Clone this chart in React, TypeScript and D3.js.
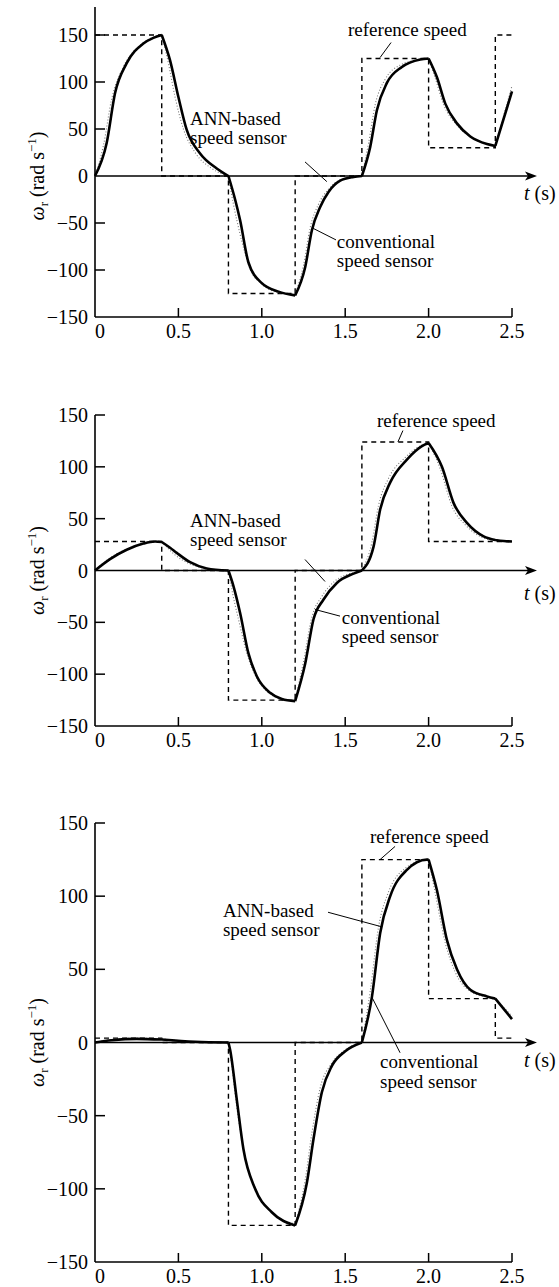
import React from 'react';
import * as d3 from 'd3';

// ---------- data ----------
const stepTimes = [0, 0.4, 0.8, 1.2, 1.6, 2.0, 2.4, 2.5];
const xTicks = [0, 0.5, 1.0, 1.5, 2.0, 2.5];
const xTickLabels = ['0', '0.5', '1.0', '1.5', '2.0', '2.5'];
const yTicks = [-150, -100, -50, 0, 50, 100, 150];
const yTickLabels = ['\u2212150', '\u2212100', '\u221250', '0', '50', '100', '150'];

// reference speed levels, one per step time
const p1Reference = [150, 0, -125, 0, 125, 30, 150, 150];
const p2Reference = [28, 0, -125, 0, 124, 28, 28, 28];
const p3Reference = [3, 0, -125, 0, 125, 30, 3, 3];

// conventional speed sensor [t, omega]
const p1Conventional: [number, number][] = [
  [0, 0], [0.07, 35], [0.12, 88], [0.19, 120], [0.29, 141], [0.35, 147], [0.4, 150],
  [0.45, 123], [0.5, 84], [0.55, 49], [0.63, 24], [0.73, 8], [0.8, 0],
  [0.84, -25], [0.87, -47], [0.92, -92], [1.0, -114], [1.1, -123], [1.2, -127],
  [1.26, -97], [1.3, -58], [1.35, -33], [1.4, -17], [1.47, -5], [1.55, -1], [1.6, 0],
  [1.65, 31], [1.69, 70], [1.75, 99], [1.84, 116], [1.95, 124], [2.0, 125],
  [2.05, 105], [2.1, 77], [2.17, 56], [2.25, 42], [2.35, 34], [2.4, 32],
  [2.5, 90],
];
const p2Conventional: [number, number][] = [
  [0, 0], [0.09, 11], [0.19, 20], [0.29, 26], [0.36, 28], [0.4, 27.5],
  [0.45, 22], [0.49, 17], [0.57, 8], [0.67, 2], [0.8, 0],
  [0.83, -15], [0.87, -41], [0.92, -80], [0.97, -102], [1.05, -118], [1.12, -124], [1.2, -126],
  [1.26, -90], [1.31, -47], [1.37, -28], [1.45, -12], [1.55, -3], [1.6, 0],
  [1.67, 23], [1.71, 59], [1.77, 85], [1.87, 107], [1.96, 120], [2.0, 123],
  [2.08, 100], [2.15, 65], [2.23, 46], [2.33, 33], [2.4, 29.5],
  [2.45, 28.5], [2.5, 28],
];
const p3Conventional: [number, number][] = [
  [0, 0], [0.1, 1.5], [0.25, 2.5], [0.4, 2],
  [0.6, 0.5], [0.8, 0],
  [0.81, -5], [0.85, -39], [0.89, -73], [0.96, -100], [1.06, -116], [1.2, -125],
  [1.27, -96], [1.31, -66], [1.36, -34], [1.42, -16], [1.5, -6], [1.6, 0],
  [1.66, 31], [1.71, 75], [1.77, 100], [1.87, 118], [1.99, 125], [2.0, 125],
  [2.05, 104], [2.11, 70], [2.17, 50], [2.25, 36], [2.35, 31.5], [2.4, 30],
  [2.5, 16],
];

// ANN-based speed sensor [t, omega]
const p1Ann: [number, number][] = [
  [0, 0], [0.05, 32], [0.1, 82], [0.17, 116], [0.27, 139], [0.34, 147], [0.4, 150],
  [0.44, 120], [0.48, 84], [0.53, 50], [0.6, 25], [0.7, 8], [0.8, 0],
  [0.83, -30], [0.87, -62], [0.93, -99], [1.0, -115], [1.1, -124], [1.2, -126],
  [1.25, -95], [1.29, -55], [1.34, -30], [1.4, -14], [1.47, -4], [1.55, -1], [1.6, 0],
  [1.64, 35], [1.68, 76], [1.74, 103], [1.83, 118], [1.95, 124], [2.0, 125],
  [2.04, 104], [2.09, 76], [2.16, 56], [2.25, 42], [2.35, 34], [2.4, 32],
  [2.5, 96],
];
const p2Ann: [number, number][] = [
  [0, 0], [0.08, 11], [0.18, 20], [0.28, 26], [0.35, 28], [0.4, 27.5],
  [0.44, 21], [0.48, 15], [0.56, 7], [0.66, 2], [0.8, 0],
  [0.82, -18], [0.86, -47], [0.92, -85], [0.97, -104], [1.05, -119], [1.12, -124], [1.2, -125],
  [1.25, -88], [1.3, -45], [1.36, -25], [1.44, -10], [1.55, -2], [1.6, 0],
  [1.66, 27], [1.7, 63], [1.76, 89], [1.86, 109], [1.96, 121], [2.0, 123],
  [2.07, 98], [2.14, 62], [2.22, 44], [2.32, 32], [2.4, 29],
  [2.45, 28.5], [2.5, 28],
];
const p3Ann: [number, number][] = [
  [0, 0], [0.1, 2], [0.25, 3], [0.4, 2.5],
  [0.6, 0.5], [0.8, 0],
  [0.81, -7], [0.85, -44], [0.9, -78], [0.97, -102], [1.07, -117], [1.2, -124],
  [1.26, -94], [1.3, -62], [1.35, -31], [1.42, -14], [1.5, -5], [1.6, 0],
  [1.65, 35], [1.7, 79], [1.76, 103], [1.86, 119], [1.99, 125], [2.0, 125],
  [2.04, 102], [2.1, 68], [2.16, 48], [2.25, 35], [2.35, 31], [2.4, 30],
  [2.5, 18],
];

// ---------- layout ----------
const FONT = '"Liberation Serif", "Times New Roman", serif';
const FS = 20;
const NOTE_FS = 19;
const X0 = 95;
const X1 = 512;
const ARROW_TIP = 537;

type Note = { lines: string[]; t: number; w: number; lead?: [number, number, number, number]; dy?: number };

const panels = [
  {
    top: 35, bottom: 317, axisTop: 7,
    ref: p1Reference, conv: p1Conventional, ann: p1Ann,
    tLabelW: -25,
    notes: [
      { lines: ['reference speed'], t: 1.517, w: 149, lead: [1.775, 142, 1.709, 126] },
      { lines: ['ANN-based', 'speed sensor'], t: 0.57, w: 54, dy: 19, lead: [1.259, 15, 1.39, -6] },
      { lines: ['conventional', 'speed sensor'], t: 1.45, w: -77, dy: 19, lead: [1.3, -55, 1.445, -68] },
    ] as Note[],
  },
  {
    top: 415, bottom: 726, axisTop: 415,
    ref: p2Reference, conv: p2Conventional, ann: p2Ann,
    tLabelW: -28,
    notes: [
      { lines: ['reference speed'], t: 1.69, w: 138, lead: [1.846, 135, 1.816, 124] },
      { lines: ['ANN-based', 'speed sensor'], t: 0.57, w: 42, dy: 19, lead: [1.259, 10.6, 1.379, -10.6] },
      { lines: ['conventional', 'speed sensor'], t: 1.48, w: -52, dy: 19, lead: [1.319, -37.6, 1.469, -44] },
    ] as Note[],
  },
  {
    top: 823, bottom: 1262, axisTop: 823,
    ref: p3Reference, conv: p3Conventional, ann: p3Ann,
    tLabelW: -17,
    notes: [
      { lines: ['reference speed'], t: 1.649, w: 136, lead: [1.799, 134, 1.709, 125] },
      { lines: ['ANN-based', 'speed sensor'], t: 0.767, w: 86, dy: 19, lead: [1.397, 89, 1.721, 79] },
      { lines: ['conventional', 'speed sensor'], t: 1.709, w: -17.4, dy: 20, lead: [1.66, 31, 1.829, -7] },
    ] as Note[],
  },
];

function splitSegments(points: [number, number][]): [number, number][][] {
  const segs: [number, number][][] = [];
  let cur: [number, number][] = [];
  points.forEach((p, i) => {
    cur.push(p);
    const isBoundary = stepTimes.slice(1, -1).some((b) => Math.abs(b - p[0]) < 1e-9);
    if (isBoundary && i > 0 && i < points.length - 1) {
      segs.push(cur);
      cur = [p];
    }
  });
  if (cur.length > 1) segs.push(cur);
  return segs;
}

function Panel({ cfg }: { cfg: typeof panels[number] }) {
  const x = d3.scaleLinear().domain([0, 2.5]).range([X0, X1]);
  const y = d3.scaleLinear().domain([-150, 150]).range([cfg.bottom, cfg.top]);
  const y0 = y(0);

  const curve = d3.line<[number, number]>().x((d) => x(d[0])).y((d) => y(d[1])).curve(d3.curveMonotoneX);
  const stepLine = d3.line<[number, number]>().x((d) => x(d[0])).y((d) => y(d[1])).curve(d3.curveStepAfter);
  const refPts: [number, number][] = stepTimes.map((t, i) => [t, cfg.ref[i]]);

  const convPath = splitSegments(cfg.conv).map((s) => curve(s)).join('');
  const annPath = splitSegments(cfg.ann).map((s) => curve(s)).join('');

  return (
    <g>
      {/* axes */}
      <line x1={X0} y1={cfg.axisTop} x2={X0} y2={cfg.bottom} stroke="#000" strokeWidth={1.6} />
      <line x1={X0} y1={cfg.bottom} x2={X1} y2={cfg.bottom} stroke="#000" strokeWidth={1.6} />
      <line x1={X0} y1={y0} x2={ARROW_TIP - 8} y2={y0} stroke="#000" strokeWidth={1.4} />
      <path d={`M${ARROW_TIP},${y0} L${ARROW_TIP - 12},${y0 - 4.5} L${ARROW_TIP - 9},${y0} L${ARROW_TIP - 12},${y0 + 4.5} Z`} fill="#000" />

      {yTicks.map((v, i) => (
        <g key={'yt' + i}>
          {v !== 0 && v !== -150 && (
            <line x1={X0} x2={X0 + 10} y1={y(v)} y2={y(v)} stroke="#000" strokeWidth={1.5} />
          )}
          <text x={X0 - 7} y={y(v)} dy="0.35em" textAnchor="end" fontFamily={FONT} fontSize={FS}>
            {yTickLabels[i]}
          </text>
        </g>
      ))}
      {xTicks.map((v, i) => (
        <g key={'xt' + i}>
          {v !== 0 && (
            <line x1={x(v)} x2={x(v)} y1={cfg.bottom} y2={cfg.bottom - 9} stroke="#000" strokeWidth={1.5} />
          )}
          <text x={x(v) + (v === 0 ? 5 : 0)} y={cfg.bottom + 21} textAnchor="middle" fontFamily={FONT} fontSize={FS}>
            {xTickLabels[i]}
          </text>
        </g>
      ))}

      {/* t (s) */}
      <text x={524} y={y(cfg.tLabelW)} fontFamily={FONT} fontSize={FS}>
        <tspan fontStyle="italic">t</tspan> (s)
      </text>

      {/* y label */}
      <text
        transform={`translate(44,${y0}) rotate(-90)`}
        textAnchor="middle"
        fontFamily={FONT}
        fontSize={FS}
      >
        <tspan fontStyle="italic">ω</tspan>
        <tspan fontSize={13} dy={4}>r</tspan>
        <tspan dy={-4}> (rad s</tspan>
        <tspan fontSize={13} dy={-8}>−1</tspan>
        <tspan dy={8}>)</tspan>
      </text>

      {/* series */}
      <path d={stepLine(refPts) || ''} fill="none" stroke="#000" strokeWidth={1.4} strokeDasharray="5 4" />
      <path d={annPath} fill="none" stroke="#777" strokeWidth={1.1} strokeDasharray="1 2" />
      <path d={convPath} fill="none" stroke="#000" strokeWidth={2.6} strokeLinejoin="round" />

      {/* annotations */}
      {cfg.notes.map((n, i) => (
        <g key={'n' + i}>
          {n.lead && (
            <line
              x1={x(n.lead[0])} y1={y(n.lead[1])} x2={x(n.lead[2])} y2={y(n.lead[3])}
              stroke="#000" strokeWidth={1}
            />
          )}
          {n.lines.map((l, j) => (
            <text key={j} x={x(n.t)} y={y(n.w) + j * (n.dy || 19)} fontFamily={FONT} fontSize={NOTE_FS}>
              {l}
            </text>
          ))}
        </g>
      ))}
    </g>
  );
}

export default function App() {
  return (
    <svg
      width={559}
      height={1287}
      viewBox="0 0 559 1287"
      style={{ position: 'absolute', left: 0, top: 0, background: '#fff' }}
    >
      <rect x={0} y={0} width={559} height={1287} fill="#fff" />
      {panels.map((p, i) => (
        <Panel key={i} cfg={p} />
      ))}
    </svg>
  );
}
